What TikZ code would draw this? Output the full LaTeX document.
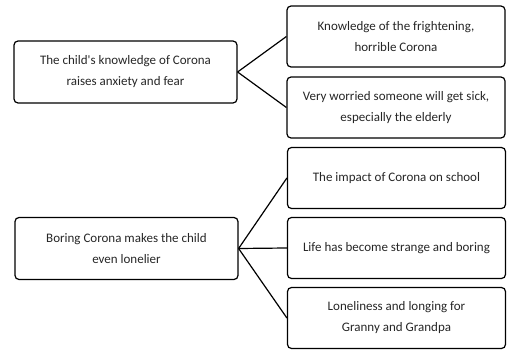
\documentclass[tikz,border=0pt]{standalone}
\usepackage{fontspec}
\setmainfont{Carlito}
\begin{document}
\begin{tikzpicture}[x=1pt,y=-1pt,
    box/.style={draw, line width=1.2pt, rounded corners=4pt, align=center,
      inner sep=0pt, text=black!85, font=\fontsize{13}{21}\selectfont},
    leftbox/.style={box, minimum width=223pt, minimum height=62pt},
    rightbox/.style={box, minimum width=218pt, minimum height=61pt},
    link/.style={line width=1.2pt}]
    \useasboundingbox (0,0) rectangle (507,350);
    % left column
    \node[leftbox] (fear) at (125.5,72) {The child\textquotesingle s knowledge of Corona\\raises anxiety and fear};
    \node[leftbox] (lonely) at (126.5,248.5) {Boring Corona makes the child\\even lonelier};
    % right column
    \node[rightbox] (horrible) at (396,36.5) {Knowledge of the frightening,\\horrible Corona};
    \node[rightbox] (worried) at (396,107.5) {Very worried someone will get sick,\\especially the elderly};
    \node[rightbox] (school) at (396.5,178) {The impact of Corona on school};
    \node[rightbox] (strange) at (396.5,248) {Life has become strange and boring};
    \node[rightbox] (granny) at (396.5,318) {Loneliness and longing for\\Granny and Grandpa};
    % connectors
    \draw[link] (fear.east) -- (horrible.west);
    \draw[link] (fear.east) -- (worried.west);
    \draw[link] (lonely.east) -- (school.west);
    \draw[link] (lonely.east) -- (strange.west);
    \draw[link] (lonely.east) -- (granny.west);
\end{tikzpicture}
\end{document}
